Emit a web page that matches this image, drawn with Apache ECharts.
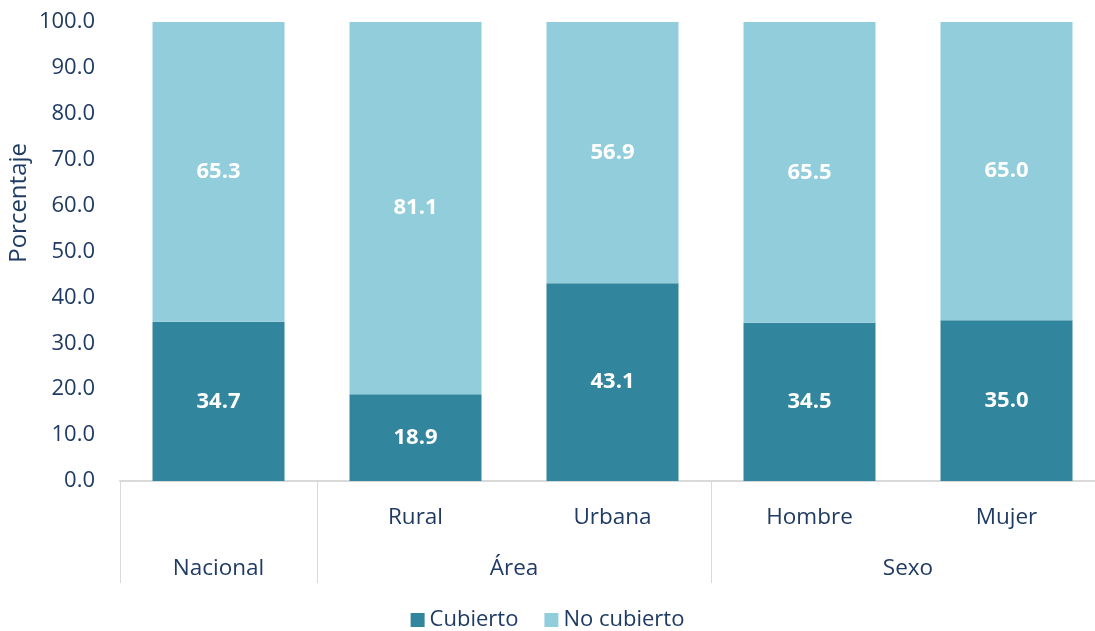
<!DOCTYPE html>
<html>
<head>
	<meta charset="UTF-8">
	<title></title>
	<script src="https://cdn.jsdelivr.net/npm/echarts@6/dist/echarts.min.js"></script>
	<style>
		html, body { margin: 0; padding: 0; background: #fff; }
	</style>
</head>
<body>
	<div id="main" style="width: 1095px; height: 631px;"></div>
	<script type="text/javascript">
		// datos del gráfico
		var categorias = ['', 'Rural', 'Urbana', 'Hombre', 'Mujer'];
		var grupos = ['Nacional', 'Área', 'Sexo'];
		var grupoCentros = [0.5, 2, 4];
		var grupoLimites = [0, 1, 3, 5];
		var cubierto = [34.7, 18.9, 43.1, 34.5, 35.0];
		var noCubierto = [65.3, 81.1, 56.9, 65.5, 65.0];

		var textColor = '#1f3b63';
		var fuente = '"Open Sans", "Noto Sans", sans-serif';

		var myChart = echarts.init(document.getElementById('main'));

		var option = {
			animation: false,
			textStyle: { fontFamily: fuente },
			grid: {
				left: 120, width: 985, top: 22, bottom: 150,
				containLabel: false,
				outerBoundsMode: 'none'
			},
			legend: {
				bottom: -5,
				left: 'center',
				itemWidth: 14,
				itemHeight: 14,
				itemGap: 26,
				icon: 'rect',
				textStyle: { color: textColor, fontSize: 22, fontFamily: fuente },
				data: ['Cubierto', 'No cubierto']
			},
			xAxis: [{
				type: 'category',
				data: categorias,
				axisLine: { lineStyle: { color: '#d9d9d9', width: 2 } },
				axisTick: { show: false },
				axisLabel: { color: textColor, fontSize: 22.5, margin: 25, fontFamily: fuente }
			}, {
				type: 'value',
				position: 'bottom',
				min: 0,
				max: 5,
				splitLine: { show: false },
				axisLine: { show: false },
				axisTick: {
					show: true,
					customValues: grupoLimites,
					length: 102,
					lineStyle: { color: '#d9d9d9', width: 1 }
				},
				axisLabel: {
					customValues: grupoCentros,
					color: textColor,
					fontSize: 22.5,
					margin: 76,
					fontFamily: fuente,
					formatter: function(v) {
						var i = grupoCentros.indexOf(v);
						return i >= 0 ? grupos[i] : '';
					}
				}
			}],
			yAxis: {
				type: 'value',
				min: 0,
				max: 100,
				interval: 10,
				splitLine: { show: false },
				axisLine: { show: false },
				axisTick: { show: false },
				axisLabel: {
					color: textColor,
					fontSize: 22,
					margin: 25,
					fontFamily: fuente,
					formatter: function(v) { return v.toFixed(1); }
				}
			},
			graphic: [{
				type: 'text',
				left: 7,
				top: 143,
				rotation: Math.PI / 2,
				style: {
					text: 'Porcentaje',
					fill: textColor,
					font: '24px ' + fuente
				}
			}],
			series: [{
				name: 'Cubierto',
				type: 'bar',
				stack: 'total',
				data: cubierto,
				barWidth: 132,
				itemStyle: { color: '#31859c' },
				label: {
					show: true,
					color: '#fff',
					fontSize: 22,
					fontWeight: 'bold',
					fontFamily: fuente,
					formatter: function(p) { return p.value.toFixed(1); }
				}
			}, {
				name: 'No cubierto',
				type: 'bar',
				stack: 'total',
				data: noCubierto,
				barWidth: 132,
				itemStyle: { color: '#92cddc' },
				label: {
					show: true,
					color: '#fff',
					fontSize: 22,
					fontWeight: 'bold',
					fontFamily: fuente,
					formatter: function(p) { return p.value.toFixed(1); }
				}
			}]
		};

		myChart.setOption(option);
	</script>
</body>
</html>
